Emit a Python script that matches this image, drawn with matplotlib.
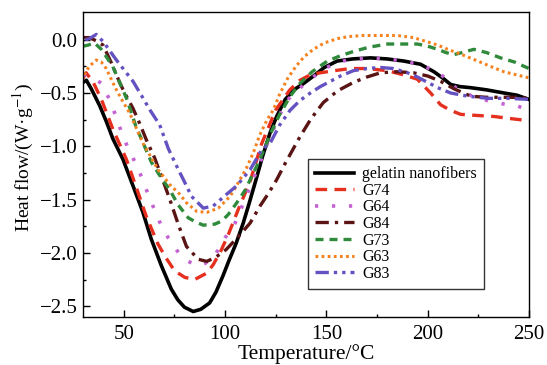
import matplotlib
matplotlib.use("Agg")
import matplotlib.pyplot as plt

plt.rcParams["font.family"] = "Liberation Serif"
plt.rcParams["mathtext.fontset"] = "stix"

# DSC curves, temperature in degC and heat flow in W/g
t_gel = [30, 31.6, 34, 38.2, 41.5, 44.7, 49.6, 54.6, 59.5, 63.6, 68.6, 73.5, 76.7,
         80, 84.3, 88, 92.4, 95.5, 98.9, 102, 105.5, 109, 112, 115.5, 118.6, 122.3,
         125.5, 129.7, 134, 138.8, 143.7, 149, 155.3, 163, 171.8, 180, 188.3, 196.5,
         203.1, 207.5, 211.4, 216, 221.3, 229, 237.8, 244, 250]
h_gel = [-0.40, -0.38, -0.46, -0.62, -0.77, -0.93, -1.12, -1.37, -1.62, -1.87, -2.12,
         -2.34, -2.44, -2.51, -2.55, -2.53, -2.47, -2.37, -2.22, -2.07, -1.91, -1.72,
         -1.53, -1.30, -1.09, -0.87, -0.72, -0.56, -0.47, -0.41, -0.34, -0.26, -0.20,
         -0.18, -0.17, -0.18, -0.20, -0.23, -0.30, -0.36, -0.42, -0.44, -0.45, -0.47,
         -0.50, -0.52, -0.56]

t_g74 = [30, 31.5, 35, 39, 44.7, 51.3, 56.3, 61.2, 67, 71, 75.2, 80.2, 85, 91, 94.2,
         98, 101.6, 106.6, 112.4, 118, 125, 132, 137, 142, 147, 154, 161.9, 170, 180,
         188.3, 194.9, 201.5, 206.4, 211, 216.3, 224, 232.8, 241, 250]
h_g74 = [-0.36, -0.31, -0.40, -0.56, -0.84, -1.12, -1.39, -1.66, -1.92, -2.05, -2.17,
         -2.23, -2.25, -2.19, -2.11, -1.98, -1.83, -1.59, -1.33, -0.98, -0.66, -0.47,
         -0.38, -0.33, -0.31, -0.29, -0.27, -0.27, -0.29, -0.33, -0.37, -0.50, -0.61,
         -0.66, -0.70, -0.71, -0.72, -0.74, -0.76]

t_g64 = [30, 34, 39, 43, 46.4, 49.7, 53, 57, 60.4, 64, 67.5, 72, 77.5, 82, 86, 90,
         94.2, 100, 105, 110, 115.7, 122, 130, 140, 150, 160, 172, 185, 196, 205.6,
         213.9, 222, 231.2, 239.5, 244, 250]
h_g64 = [-0.33, -0.34, -0.41, -0.56, -0.73, -0.91, -1.05, -1.20, -1.37, -1.54, -1.70,
         -1.86, -2.01, -2.08, -2.12, -2.10, -2.05, -1.86, -1.72, -1.49, -1.23, -0.92,
         -0.58, -0.40, -0.26, -0.19, -0.17, -0.19, -0.23, -0.31, -0.45, -0.53, -0.58,
         -0.61, -0.62, -0.66]

t_g84 = [30, 33, 36.5, 39.8, 44, 48, 50.5, 54.5, 58, 61.2, 65.3, 69, 72.8, 76.9, 81,
         86.8, 91, 95.5, 100.5, 104, 107.4, 112.4, 117.3, 121.5, 125.6, 129.7, 137,
         142.5, 148.5, 155.5, 163.4, 170, 176.7, 185, 193, 200, 206.4, 213, 221.3,
         229, 237.6, 244, 250]
h_g84 = [0.02, 0.02, -0.01, -0.05, -0.22, -0.40, -0.50, -0.64, -0.79, -0.94, -1.11,
         -1.30, -1.50, -1.73, -1.94, -2.06, -2.08, -2.04, -1.97, -1.90, -1.83, -1.72,
         -1.56, -1.44, -1.31, -1.16, -0.91, -0.74, -0.59, -0.48, -0.40, -0.35, -0.31,
         -0.30, -0.31, -0.34, -0.39, -0.46, -0.53, -0.54, -0.54, -0.54, -0.55]

t_g73 = [30, 32.5, 35.6, 39, 44.6, 48, 51.4, 56, 63.7, 68, 72.8, 76.9, 81.8, 85.5,
         89.3, 95, 98.5, 101.6, 105.8, 110, 114, 117.3, 122, 127, 132.2, 137, 143,
         150.5, 157, 163.4, 171, 180.2, 188, 195, 200, 205, 209, 212.9, 217, 222.8,
         229, 236, 243, 250]
h_g73 = [-0.06, -0.05, -0.03, -0.09, -0.25, -0.40, -0.55, -0.81, -1.15, -1.28, -1.41,
         -1.55, -1.67, -1.71, -1.74, -1.73, -1.70, -1.64, -1.53, -1.41, -1.25, -1.12,
         -0.90, -0.70, -0.53, -0.41, -0.30, -0.20, -0.15, -0.11, -0.07, -0.04, -0.04,
         -0.04, -0.06, -0.09, -0.12, -0.14, -0.12, -0.09, -0.12, -0.17, -0.21, -0.27]

t_g63 = [30.5, 33, 36.5, 39, 41.4, 45.6, 49, 53, 59.5, 67, 72.8, 77.7, 81, 86, 91,
         96.7, 102.5, 106.6, 110.7, 114, 117, 120.8, 123.8, 127, 130.7, 135, 139,
         143.6, 149, 155.4, 161, 168.3, 176, 185.1, 193, 200, 205, 209.9, 217, 224.8,
         231, 237.6, 244, 250.5]
h_g63 = [-0.33, -0.25, -0.19, -0.21, -0.27, -0.44, -0.56, -0.69, -0.97, -1.22, -1.36,
         -1.45, -1.53, -1.61, -1.62, -1.58, -1.47, -1.34, -1.20, -1.06, -0.90, -0.75,
         -0.66, -0.51, -0.37, -0.25, -0.16, -0.09, -0.03, 0.01, 0.03, 0.04, 0.04,
         0.04, 0.02, -0.02, -0.05, -0.09, -0.14, -0.20, -0.25, -0.30, -0.33, -0.36]

t_g83 = [31, 33, 36.5, 40, 43, 46.4, 50.5, 54.6, 59, 63, 67.8, 72, 77, 79.4, 83.5,
         89.3, 94.2, 100.8, 105.8, 112.4, 118.2, 122.3, 127, 132.2, 137, 142.1, 147,
         152, 157, 163.4, 170, 176.7, 183, 190.1, 195, 200, 205, 211.4, 220, 229.7,
         240, 250.5]
h_g83 = [0.0, 0.01, 0.05, -0.02, -0.10, -0.19, -0.29, -0.39, -0.53, -0.66, -0.80,
         -1.02, -1.22, -1.31, -1.47, -1.58, -1.56, -1.45, -1.37, -1.22, -1.03, -0.97,
         -0.80, -0.66, -0.57, -0.50, -0.44, -0.39, -0.34, -0.29, -0.27, -0.26, -0.27,
         -0.31, -0.35, -0.40, -0.45, -0.50, -0.53, -0.55, -0.55, -0.56]

labels = ["gelatin nanofibers", "G74", "G64", "G84", "G73", "G63", "G83"]

fig = plt.figure(figsize=(5.47, 3.65), dpi=100)
ax = fig.add_axes([0.152, 0.132, 0.815, 0.835])

ax.plot(t_gel, h_gel, color="black", lw=2.6, label=labels[0])
ax.plot(t_g74, h_g74, color="#e5301f", lw=2.4, ls=(0, (3.5, 2.2)), label=labels[1])
ax.plot(t_g64, h_g64, color="#c462d2", lw=2.6, ls=(0, (0.9, 3.8)), label=labels[2])
ax.plot(t_g84, h_g84, color="#5a1414", lw=2.4, ls=(0, (4, 1.8, 1, 1.8)), label=labels[3])
ax.plot(t_g73, h_g73, color="#2f8a3c", lw=2.4, ls=(0, (2.4, 1.8)), label=labels[4])
ax.plot(t_g63, h_g63, color="#f5821f", lw=2.2, ls=(0, (0.9, 1.1)), label=labels[5])
ax.plot(t_g83, h_g83, color="#6552c2", lw=2.4,
        ls=(0, (4, 1.5, 1, 1.5, 1, 1.5)), label=labels[6])

ax.set_xlim(30, 250)
ax.set_ylim(-2.6, 0.26)
ax.set_xticks([50, 100, 150, 200, 250])
ax.set_xticks([75, 125, 175, 225], minor=True)
ax.set_yticks([0.0, -0.5, -1.0, -1.5, -2.0, -2.5])
ax.set_yticks([-0.25, -0.75, -1.25, -1.75, -2.25], minor=True)
ax.set_yticklabels(["0.0", "\u22120.5", "\u22121.0", "\u22121.5", "\u22122.0", "\u22122.5"])
ax.tick_params(which="major", direction="in", length=5, width=1, labelsize=15, pad=4)
ax.tick_params(which="minor", direction="in", length=2.5, width=1)
ax.tick_params(axis="x", which="major", pad=6)
for s in ax.spines.values():
    s.set_linewidth(1.0)

ax.set_xlabel("Temperature/\u00b0C", fontsize=15.5, labelpad=0)
ax.set_ylabel("Heat flow/(W\u00b7g$^{-1}$)", fontsize=14)
ax.yaxis.set_label_coords(-0.106, 0.523)

leg = ax.legend(loc="upper left", bbox_to_anchor=(0.5045, 0.518), borderaxespad=0,
                fontsize=11.5, frameon=True, fancybox=False, edgecolor="black",
                labelspacing=0.04, handlelength=2.4, handletextpad=0.55,
                borderpad=0.45)
leg.get_frame().set_linewidth(1.0)

fig.savefig("out.png", dpi=100)
